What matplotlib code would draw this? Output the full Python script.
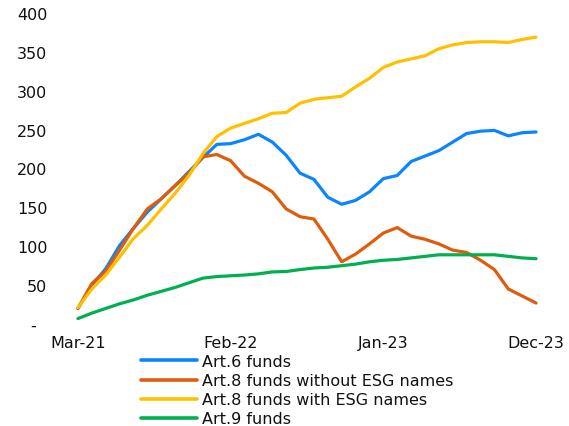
import matplotlib
matplotlib.use("Agg")
import matplotlib.pyplot as plt

plt.rcParams['font.family'] = ['DejaVu Sans']

months = ["Mar-21","Apr-21","May-21","Jun-21","Jul-21","Aug-21","Sep-21","Oct-21","Nov-21","Dec-21",
          "Jan-22","Feb-22","Mar-22","Apr-22","May-22","Jun-22","Jul-22","Aug-22","Sep-22","Oct-22",
          "Nov-22","Dec-22","Jan-23","Feb-23","Mar-23","Apr-23","May-23","Jun-23","Jul-23","Aug-23",
          "Sep-23","Oct-23","Nov-23","Dec-23"]

art6 = [20, 50, 71, 101, 123, 144, 161, 178, 196, 214, 231, 232, 237, 244, 234, 217, 194,
        186, 163, 154, 159, 170, 187, 191, 209, 216, 223, 234, 245, 248, 249, 242, 246, 247]
art8_no_esg = [20, 52, 68, 95, 123, 148, 161, 178, 194, 215, 218, 210, 190, 181, 170, 148, 138,
               135, 109, 80, 90, 103, 117, 124, 113, 109, 103, 95, 92, 82, 70, 45, 36, 27]
art8_esg = [21, 45, 63, 86, 110, 127, 148, 168, 191, 219, 241, 252, 258, 264, 271, 272, 284,
            289, 291, 293, 305, 316, 330, 337, 341, 345, 354, 359, 362, 363, 363, 362, 366, 369]
art9 = [7, 14, 20, 26, 31, 37, 42, 47, 53, 59, 61, 62, 63, 64.5, 67, 67.5, 70,
        72, 73, 75, 77, 80, 82, 83, 85, 87, 89, 89, 89, 89, 89, 87, 85, 84]

series_names = ["Art.6 funds", "Art.8 funds without ESG names",
                "Art.8 funds with ESG names", "Art.9 funds"]
colors = ["#0A84FF", "#DE5C0C", "#FFC000", "#00B050"]

yticks = [0, 50, 100, 150, 200, 250, 300, 350, 400]
ytick_labels = ["-  ", "50", "100", "150", "200", "250", "300", "350", "400"]
xtick_idx = [0, 11, 22, 33]

fig = plt.figure(figsize=(5.69, 4.27), dpi=100)
ax = fig.add_axes([71/569, 1 - 325/427, 472/569, 311/427])

x = list(range(len(months)))
for data, name, c in zip([art6, art8_no_esg, art8_esg, art9], series_names, colors):
    ax.plot(x, data, color=c, lw=2.3, label=name, solid_joinstyle='round', solid_capstyle='round')

ax.set_xlim(-0.5, len(months) - 0.5)
ax.set_ylim(0, 400)
ax.set_yticks(yticks)
ax.set_yticklabels(ytick_labels)
ax.set_xticks(xtick_idx)
ax.set_xticklabels([months[i] for i in xtick_idx])
for s in ax.spines.values():
    s.set_visible(False)
ax.tick_params(axis='both', length=0, labelsize=11.5, colors='#111111')
ax.tick_params(axis='y', pad=17)
ax.tick_params(axis='x', pad=8)

leg = fig.legend(loc='upper left', bbox_to_anchor=(141/569, 1 - 355/427),
                 frameon=False, fontsize=11.5, handlelength=3.5, handletextpad=0.3,
                 labelspacing=0.26, borderpad=0, borderaxespad=0)
for t in leg.get_texts():
    t.set_color('#111111')
for l in leg.get_lines():
    l.set_linewidth(2.6)

fig.savefig("out.png", dpi=100)
